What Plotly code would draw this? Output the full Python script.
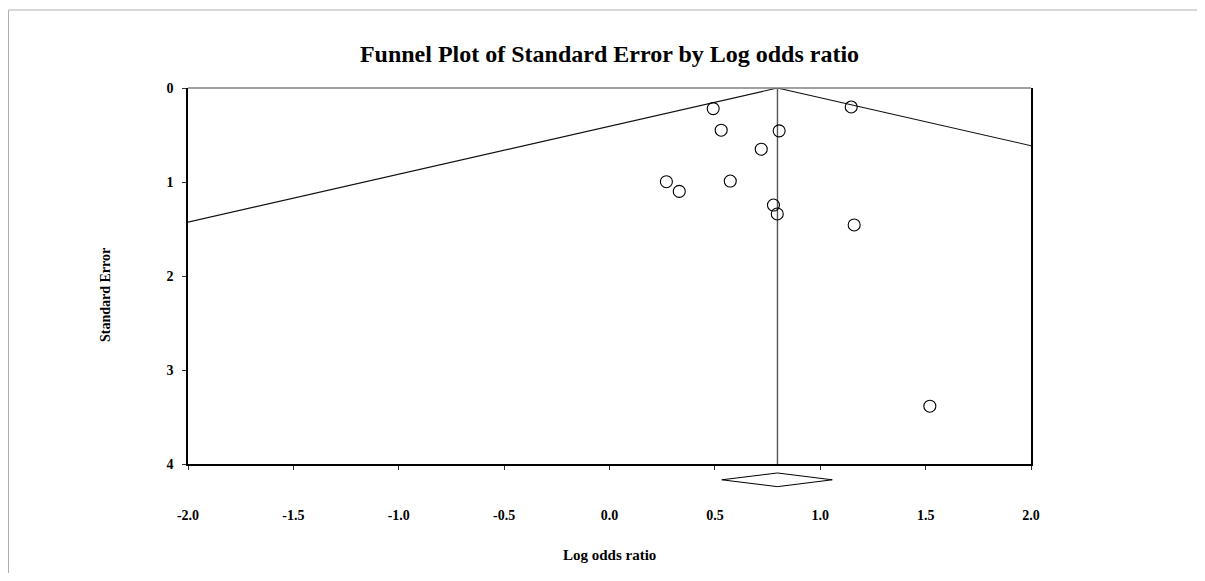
import plotly.graph_objects as go

# ---- data ----
log_odds_ratio = [0.492, 1.147, 0.530, 0.805, 0.720, 0.270, 0.573, 0.331, 0.778, 0.796, 1.161, 1.520]
standard_error = [0.219, 0.202, 0.449, 0.456, 0.651, 0.997, 0.990, 1.100, 1.245, 1.340, 1.457, 3.385]
pooled_mean = 0.797
pooled_lower = 0.533
pooled_upper = 1.057
x_ticks = [-2.0, -1.5, -1.0, -0.5, 0.0, 0.5, 1.0, 1.5, 2.0]
y_ticks = [0, 1, 2, 3, 4]

# page geometry (the page body has an 8px margin)
OFF = 8
PAGE_W, PAGE_H = 1205, 581
W, H = PAGE_W - 2 * OFF, PAGE_H - 2 * OFF
L, R, T = 188 - OFF, 1031 - OFF, 88 - OFF
AX_BOTTOM = 464 - OFF
PAPER_BOTTOM = 495 - OFF
paper_h = PAPER_BOTTOM - T
main_lo = (PAPER_BOTTOM - AX_BOTTOM) / paper_h


def py(page_y):
    return (PAPER_BOTTOM - (page_y - OFF)) / paper_h


def px(page_x):
    return ((page_x - OFF) - L) / (R - L)


FONT = "Liberation Serif, Times New Roman, serif"

fig = go.Figure()

se_max = 4
# funnel lines (95% limits)
fig.add_trace(go.Scatter(
    x=[pooled_mean - 1.96 * se_max, pooled_mean, pooled_mean + 1.96 * se_max],
    y=[se_max, 0, se_max],
    mode="lines", line=dict(color="#111111", width=1.1),
    hoverinfo="skip", showlegend=False))
# vertical line at pooled mean
fig.add_trace(go.Scatter(
    x=[pooled_mean, pooled_mean], y=[0, se_max],
    mode="lines", line=dict(color="#555555", width=1.4),
    hoverinfo="skip", showlegend=False))
# studies
fig.add_trace(go.Scatter(
    x=log_odds_ratio, y=standard_error, mode="markers",
    marker=dict(symbol="circle-open", size=12, color="black", line=dict(width=1.1)),
    showlegend=False))
# diamond of pooled estimate
fig.add_trace(go.Scatter(
    x=[pooled_lower, pooled_mean, pooled_upper, pooled_mean, pooled_lower],
    y=[0, 0.45, 0, -0.45, 0],
    mode="lines", line=dict(color="black", width=1),
    xaxis="x", yaxis="y2", hoverinfo="skip", showlegend=False))

fig.update_layout(
    width=W, height=H,
    margin=dict(l=L, r=W - R, t=T, b=H - PAPER_BOTTOM),
    paper_bgcolor="white", plot_bgcolor="white",
    font=dict(family=FONT, color="black"),
    title=dict(text="<b>Funnel Plot of Standard Error by Log odds ratio</b>",
               font=dict(family=FONT, size=24, color="black"),
               x=0.5, xref="paper", xanchor="center",
               y=1 - (54 - OFF) / H, yref="container", yanchor="middle"),
    xaxis=dict(range=[-2, 2], tickvals=x_ticks,
               ticktext=[f"<b>{v:.1f}</b>" for v in x_ticks],
               showgrid=False, zeroline=False, showline=True, mirror=False,
               linecolor="black", linewidth=1.5, ticks="outside", ticklen=4,
               tickcolor="#333333", tickwidth=1,
               tickfont=dict(family=FONT, size=14, color="black"),
               ticklabelstandoff=33, anchor="y"),
    yaxis=dict(range=[4, 0], tickvals=y_ticks,
               ticktext=[f"<b>{v}</b>" for v in y_ticks],
               domain=[main_lo, 1],
               showgrid=False, zeroline=False, showline=True, mirror=True,
               linecolor="black", linewidth=1.5, ticks="outside", ticklen=4,
               tickcolor="#333333", tickwidth=1,
               tickfont=dict(family=FONT, size=14, color="black"),
               ticklabelstandoff=6),
    yaxis2=dict(domain=[0, main_lo * 0.98], range=[-1, 1], visible=False,
                anchor="x", fixedrange=True),
    annotations=[
        dict(text="<b>Log odds ratio</b>", xref="paper", yref="paper",
             x=0.5, y=py(555), xanchor="center", yanchor="middle",
             showarrow=False, font=dict(family=FONT, size=15, color="black")),
        dict(text="<b>Standard Error</b>", xref="paper", yref="paper",
             x=px(105), y=py(295),
             xanchor="center", yanchor="middle", textangle=-90,
             showarrow=False, font=dict(family=FONT, size=14, color="black")),
    ],
    shapes=[
        # outer light frame
        dict(type="rect", xref="paper", yref="paper",
             x0=px(OFF + 0.5), x1=px(PAGE_W + 20),
             y0=py(PAGE_H + 20), y1=py(10),
             line=dict(color="#b0b0b0", width=1), fillcolor="rgba(0,0,0,0)", layer="below"),
        # grey top border of plot area
        dict(type="line", xref="paper", yref="paper", x0=0, x1=1, y0=1, y1=1,
             line=dict(color="#808080", width=1.5), layer="above"),
    ],
)

fig.write_html("out.html")
